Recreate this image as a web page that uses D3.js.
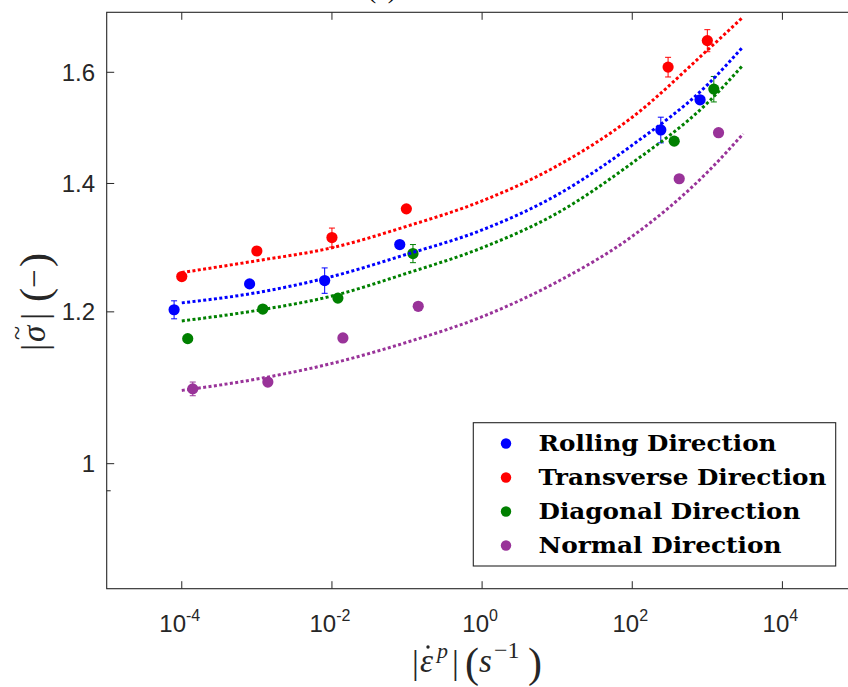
<!DOCTYPE html>
<html>
<head>
<meta charset="utf-8">
<script src="https://cdn.jsdelivr.net/npm/d3@7"></script>
<style>
  html, body { margin: 0; padding: 0; background: #fff; }
  svg { display: block; }
</style>
</head>
<body>
<svg id="chart" width="848" height="687"></svg>
<script>
// ---------- data ----------
const seriesNames = ["Rolling Direction", "Transverse Direction", "Diagonal Direction", "Normal Direction"];
const seriesColors = ["#0000ff", "#ff0000", "#008000", "#993399"];

// measured points: strain rate (1/s), normalised stress, error half-width
const rollingX = [7.9e-5, 8.0e-4, 8.0e-3, 0.080, 240, 800];
const rollingY = [1.203, 1.241, 1.246, 1.301, 1.493, 1.548];
const rollingErr = [0.013, 0.004, 0.019, 0.004, 0.023, 0.004];

const transverseX = [1.0e-4, 1.0e-3, 0.010, 0.098, 300, 1000];
const transverseY = [1.252, 1.291, 1.312, 1.358, 1.610, 1.662];
const transverseErr = [0.003, 0.003, 0.015, 0.003, 0.019, 0.022];

const diagonalX = [1.2e-4, 1.2e-3, 0.012, 0.12, 362, 1220];
const diagonalY = [1.162, 1.204, 1.220, 1.287, 1.473, 1.568];
const diagonalErr = [0.003, 0.003, 0.003, 0.014, 0.003, 0.024];

const normalX = [1.4e-4, 1.4e-3, 0.014, 0.141, 422, 1410];
const normalY = [1.094, 1.103, 1.163, 1.208, 1.408, 1.488];
const normalErr = [0.009, 0.003, 0.003, 0.003, 0.003, 0.003];

// fitted curves, values
const fitX = [1e-4, 1e-3, 1e-2, 1e-1, 1e0, 1e1, 1e2, 1e3, 3e3];
const rollingFit = [1.213, 1.228, 1.252, 1.286, 1.324, 1.381, 1.466, 1.576, 1.650];
const transverseFit = [1.258, 1.276, 1.296, 1.330, 1.371, 1.430, 1.516, 1.643, 1.710];
const diagonalFit = [1.187, 1.202, 1.223, 1.257, 1.296, 1.351, 1.435, 1.542, 1.614];
const normalFit = [1.092, 1.107, 1.128, 1.157, 1.193, 1.244, 1.314, 1.419, 1.486];

// axes
const xDomain = [1e-5, 1e5];
const yDomain = [0.8606, 1.7195];
const xTickExps = [-4, -2, 0, 2, 4];
const yTickValues = [1, 1.2, 1.4, 1.6];
const yTickLabels = ["1", "1.2", "1.4", "1.6"];
const yMinorTicks = [0.968];
const titleText = "(c)";

// ---------- build ----------
const series = [
  {name: seriesNames[0], color: seriesColors[0], x: rollingX, y: rollingY, e: rollingErr, fit: rollingFit},
  {name: seriesNames[1], color: seriesColors[1], x: transverseX, y: transverseY, e: transverseErr, fit: transverseFit},
  {name: seriesNames[2], color: seriesColors[2], x: diagonalX, y: diagonalY, e: diagonalErr, fit: diagonalFit},
  {name: seriesNames[3], color: seriesColors[3], x: normalX, y: normalY, e: normalErr, fit: normalFit}
];

const L = 106.7, R = 857.5, T = 12.3, B = 588.7;
const axisColor = "#262626";
const serif = "'Liberation Serif', 'DejaVu Serif', serif";
const svg = d3.select("#chart");

const x = d3.scaleLog().domain(xDomain).range([L, R]);
const y = d3.scaleLog().domain(yDomain).range([B, T]);

// title, almost entirely above the top of the picture (as in the reference)
svg.append("text").attr("x", 382).attr("y", -2.5)
  .attr("text-anchor", "middle")
  .attr("font-family", serif).attr("font-size", 26)
  .attr("fill", "#000").text(titleText);

const plot = svg.append("g");

// error bars
series.forEach(s => {
  const g = plot.append("g");
  s.x.forEach((xv, i) => {
    if (s.e[i] < 0.006) return;
    const cx = x(xv), y1 = y(s.y[i] + s.e[i]), y2 = y(s.y[i] - s.e[i]);
    g.append("line").attr("x1", cx).attr("x2", cx).attr("y1", y1).attr("y2", y2)
      .attr("stroke", s.color).attr("stroke-width", 1);
    [y1, y2].forEach(yy => g.append("line").attr("x1", cx - 3).attr("x2", cx + 3)
      .attr("y1", yy).attr("y2", yy).attr("stroke", s.color).attr("stroke-width", 1));
  });
});

// points
series.forEach(s => {
  plot.append("g").selectAll("circle").data(s.x.map((xv, i) => [xv, s.y[i]]))
    .join("circle")
    .attr("cx", d => x(d[0])).attr("cy", d => y(d[1])).attr("r", 5.6)
    .attr("fill", s.color);
});

// fitted dotted curves
const line = d3.line().x(d => x(d[0])).y(d => y(d[1])).curve(d3.curveMonotoneX);
series.forEach(s => {
  plot.append("path").datum(fitX.map((xv, i) => [xv, s.fit[i]]))
    .attr("d", line).attr("fill", "none")
    .attr("stroke", s.color).attr("stroke-width", 3)
    .attr("stroke-dasharray", "3 2.4");
});

// frame
svg.append("rect").attr("x", L).attr("y", T).attr("width", R - L).attr("height", B - T)
  .attr("fill", "none").attr("stroke", axisColor).attr("stroke-width", 1.1);

// x ticks (bottom and top, inward)
const xt = svg.append("g");
xTickExps.forEach(p => {
  const px = x(Math.pow(10, p));
  xt.append("line").attr("x1", px).attr("x2", px).attr("y1", B).attr("y2", B - 7.5)
    .attr("stroke", axisColor).attr("stroke-width", 1);
  xt.append("line").attr("x1", px).attr("x2", px).attr("y1", T).attr("y2", T + 7.5)
    .attr("stroke", axisColor).attr("stroke-width", 1);
  const t = xt.append("text").attr("x", px - 2).attr("y", 632)
    .attr("text-anchor", "middle")
    .attr("font-family", "'Liberation Sans', Arial, sans-serif")
    .attr("font-size", 24).attr("fill", axisColor);
  t.append("tspan").text("10");
  t.append("tspan").attr("dy", -11).attr("font-size", 16).text(String(p));
});

// y ticks
const yt = svg.append("g");
yTickValues.forEach((v, i) => {
  const py = y(v);
  yt.append("line").attr("x1", L).attr("x2", L + 7.5).attr("y1", py).attr("y2", py)
    .attr("stroke", axisColor).attr("stroke-width", 1);
  yt.append("text").attr("x", 95).attr("y", py + 8.5)
    .attr("text-anchor", "end")
    .attr("font-family", "'Liberation Sans', Arial, sans-serif")
    .attr("font-size", 24).attr("fill", axisColor).text(yTickLabels[i]);
});
yMinorTicks.forEach(v => {
  const py = y(v);
  yt.append("line").attr("x1", L).attr("x2", L + 4).attr("y1", py).attr("y2", py)
    .attr("stroke", axisColor).attr("stroke-width", 1);
});

// helper for LaTeX-like label pieces
function piece(g, str, px, py, size, italic) {
  g.append("text").attr("x", px).attr("y", py)
    .attr("font-family", serif).attr("font-size", size)
    .attr("font-style", italic ? "italic" : "normal")
    .attr("fill", axisColor).text(str);
}

// x label: |ε̇^p| (s^-1)
const xl = svg.append("g");
piece(xl, "|", 412, 674, 34, false);
piece(xl, "ε", 420, 672, 33, true);
xl.append("circle").attr("cx", 428).attr("cy", 647).attr("r", 1.7).attr("fill", axisColor);
piece(xl, "p", 437, 658, 22, true);
piece(xl, "|", 452, 674, 34, false);
piece(xl, "(", 465, 677, 42, false);
piece(xl, "s", 479, 672, 33, true);
piece(xl, "\u22121", 494, 658, 24, false);
piece(xl, ")", 528, 677, 42, false);

// y label: |σ̃| (−), rotated
const yl = svg.append("g").attr("transform", "translate(45,300) rotate(-90)");
piece(yl, "|", -51, 1, 36, false);
piece(yl, "σ", -42, 0, 33, true);
piece(yl, "~", -40, -20, 26, false);
piece(yl, "|", -20, 1, 36, false);
piece(yl, "(", -2, 4, 42, false);
piece(yl, "\u2212", 12, 0, 33, false);
piece(yl, ")", 33, 4, 42, false);

// legend
const lg = svg.append("g");
lg.append("rect").attr("x", 473.3).attr("y", 422.7).attr("width", 362.4).attr("height", 143.3)
  .attr("fill", "#fff").attr("stroke", axisColor).attr("stroke-width", 1.1);
const legendWidths = [238, 288, 262, 243];
series.forEach((s, i) => {
  const yy = 443.5 + i * 34;
  lg.append("circle").attr("cx", 506).attr("cy", yy).attr("r", 5.2).attr("fill", s.color);
  lg.append("text").attr("x", 538.5).attr("y", yy + 7)
    .attr("font-family", "'DejaVu Serif', serif").attr("font-weight", "bold")
    .attr("font-size", 22).attr("fill", "#000")
    .attr("textLength", legendWidths[i]).attr("lengthAdjust", "spacingAndGlyphs")
    .text(s.name);
});
</script>
</body>
</html>
